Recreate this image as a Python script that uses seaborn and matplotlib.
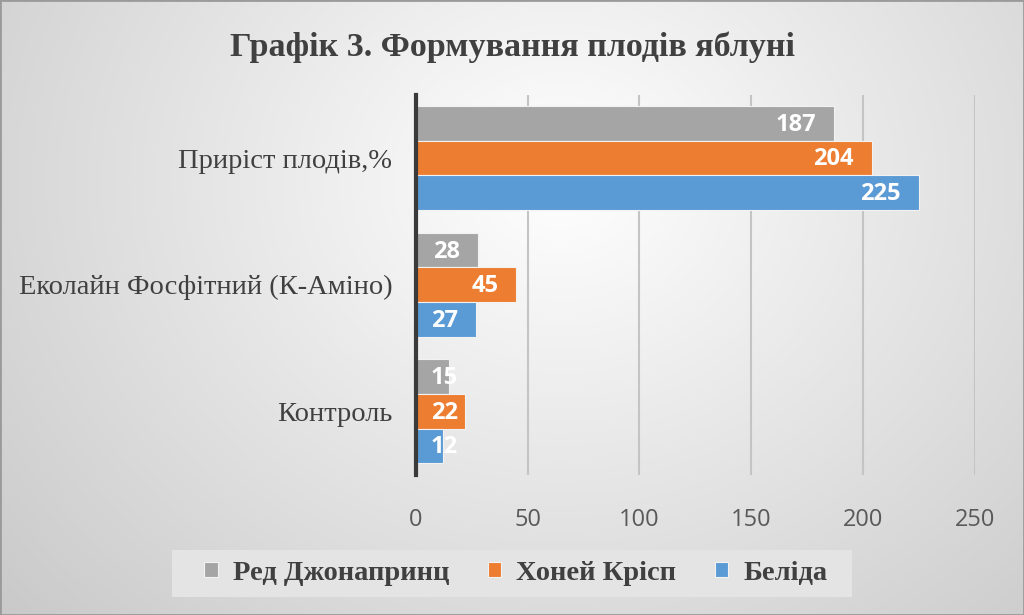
import numpy as np
import pandas as pd
import matplotlib
matplotlib.use("Agg")
import matplotlib.pyplot as plt
import seaborn as sns

# ---- data ----
categories = ["Приріст плодів,%", "Еколайн Фосфітний (К-Аміно)", "Контроль"]
varieties = ["Ред Джонапринц", "Хоней Крісп", "Беліда"]
red_jonaprince = [187, 28, 15]
honey_crisp = [204, 45, 22]
belida = [225, 27, 12]
x_ticks = [0, 50, 100, 150, 200, 250]

colors = ["#A5A5A5", "#ED7D31", "#5B9BD5"]

df = pd.DataFrame({
    "category": categories * 3,
    "variety": [v for v in varieties for _ in categories],
    "value": red_jonaprince + honey_crisp + belida,
})

sns.set_theme(style="white")
plt.rcParams["font.family"] = ["Liberation Serif", "DejaVu Serif"]

fig = plt.figure(figsize=(10.24, 6.15), dpi=100)

# background gradient (light centre, grey edges)
bg = fig.add_axes([0, 0, 1, 1], zorder=-10)
yy, xx = np.mgrid[0:615, 0:1024]
d = np.sqrt(((xx - 560) / 600.0) ** 2 + ((yy - 180) / 520.0) ** 2)
shade = 1.0 - 0.22 * np.clip(d, 0, 1.3) / 1.3
bg.imshow(np.dstack([shade] * 3), aspect="auto", extent=[0, 1, 0, 1])
bg.set_axis_off()
fig.patches.append(plt.Rectangle((0, 0), 1, 1, transform=fig.transFigure,
                                 fill=False, edgecolor="#9A9A9A", linewidth=2))
# legend panel
fig.patches.append(plt.Rectangle((0.168, 0.029), 0.664, 0.076,
                                 transform=fig.transFigure,
                                 facecolor="#E4E4E4", edgecolor="none",
                                 zorder=1))

ax = fig.add_axes([0.406, 0.228, 0.546, 0.618])
ax.patch.set_alpha(0)

sns.barplot(data=df, y="category", x="value", hue="variety",
            order=categories, hue_order=varieties, palette=colors,
            orient="h", width=0.82, ax=ax, edgecolor="#F2F2F2", linewidth=0.8,
            saturation=1)

ax.set_xlim(0, 250)
ax.set_xticks(x_ticks)
ax.set_xticklabels([str(t) for t in x_ticks], family="Open Sans",
                   fontsize=17, color="#595959")
ax.set_yticklabels(categories, fontsize=20.5, color="#404040")
ax.tick_params(axis="y", length=0, pad=17)
ax.tick_params(axis="x", length=0, pad=24)
ax.set_xlabel("")
ax.set_ylabel("")
ax.xaxis.grid(True, color="#C4C4C4", linewidth=1.5)
ax.set_axisbelow(True)
for s in ["top", "right", "bottom"]:
    ax.spines[s].set_visible(False)
ax.spines["left"].set_color("#3A3A3A")
ax.spines["left"].set_linewidth(3)
ax.spines["left"].set_zorder(5)

# data labels inside the bar ends
for cont in ax.containers:
    for bar in cont:
        v = bar.get_width()
        yc = bar.get_y() + bar.get_height() / 2
        ax.annotate(f"{v:.0f}", xy=(max(v, 27), yc), xytext=(-13, -1),
                    textcoords="offset points", ha="right", va="center",
                    color="white", fontsize=17, fontweight="bold",
                    family="Open Sans", zorder=6)

ax.legend_.remove()
handles, labels = ax.get_legend_handles_labels()
leg = fig.legend(handles, labels, loc="center", bbox_to_anchor=(0.504, 0.068),
                 ncol=3, frameon=False, handlelength=0.46,
                 handleheight=0.46, handletextpad=0.53, columnspacing=1.37,
                 borderpad=0, borderaxespad=0,
                 prop={"family": "Liberation Serif", "weight": "bold",
                       "size": 20.5})
leg.set_zorder(3)
for t in leg.get_texts():
    t.set_color("#404040")

fig.text(0.5, 0.923, "Графік 3. Формування плодів яблуні", ha="center",
         va="center", fontsize=24.5, fontweight="bold", color="#404040")

fig.savefig("out.png", dpi=100)
